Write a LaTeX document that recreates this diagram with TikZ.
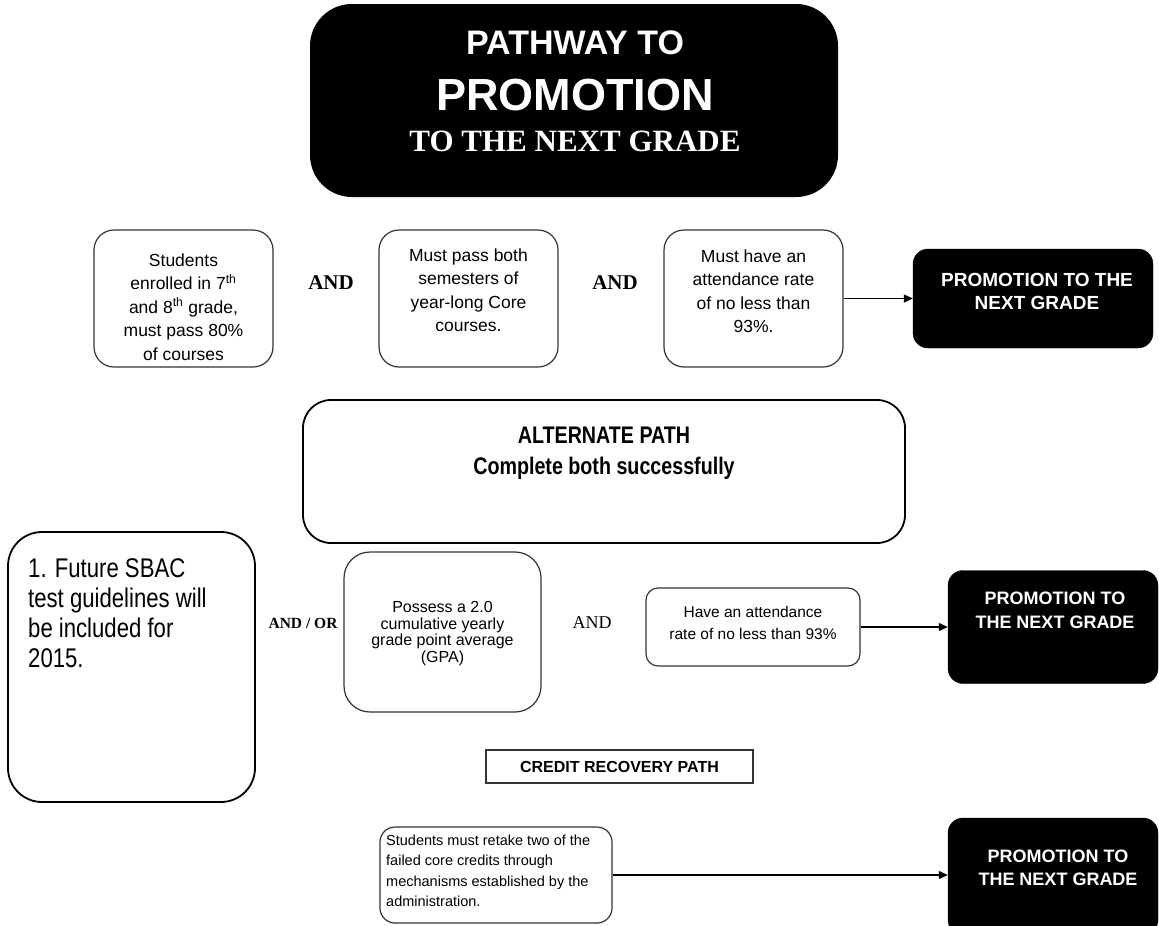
\documentclass[tikz,border=0pt]{standalone}
\usepackage{fontspec}
\setmainfont{Liberation Sans}
\newfontfamily\timesfont{Liberation Serif}
\newfontfamily\narrowfont[FakeStretch=0.82]{Liberation Sans}
\usetikzlibrary{arrows.meta}

\tikzset{
  reqbox/.style={draw=black!80, line width=1.2pt, rounded corners=20pt},
  reqtext/.style={align=center, inner sep=0pt, font=\fontsize{17.5}{23.5}\selectfont},
  andlabel/.style={inner sep=0pt, font=\timesfont\bfseries\fontsize{21}{24}\selectfont},
  blackbox/.style={fill=black, draw=black, rounded corners=15pt},
  blacktext/.style={text=white, align=center, inner sep=0pt, font=\bfseries\fontsize{18}{23.5}\selectfont},
  pathbox/.style={draw=black, line width=1.8pt, rounded corners=28pt},
  linkarrow/.style={-{Triangle[length=9pt,width=8pt]}, line width=1.2pt}
}

\begin{document}
\begin{tikzpicture}[x=1pt, y=-1pt]
  \useasboundingbox (0,0) rectangle (1159,926);

  % title
  \node [fill=black, rounded corners=42pt, minimum width=528pt, minimum height=193pt] (title) at (574,100.5) {};
  \node [text=white, inner sep=0pt, font=\bfseries\fontsize{34}{36}\selectfont] (titleA) at (575,43) {PATHWAY TO};
  \node [text=white, inner sep=0pt, font=\bfseries\fontsize{45}{48}\selectfont] (titleB) at (575,95) {PROMOTION};
  \node [text=white, inner sep=0pt, font=\timesfont\bfseries\fontsize{31}{34}\selectfont] (titleC) at (575,141) {TO THE NEXT GRADE};

  % main path
  \node [reqbox, minimum width=179pt, minimum height=137pt] (req1) at (183.5,298.5) {};
  \node [reqtext] (req1txt) at (183.5,307) {Students\\enrolled in 7\textsuperscript{th}\\and 8\textsuperscript{th} grade,\\must pass 80\%\\of courses};
  \node [andlabel] (and1) at (331,283) {AND};
  \node [reqbox, minimum width=179pt, minimum height=137pt] (req2) at (468.5,298.5) {};
  \node [reqtext] (req2txt) at (468.5,290) {Must pass both\\semesters of\\year-long Core\\courses.};
  \node [andlabel] (and2) at (615,283) {AND};
  \node [reqbox, minimum width=179pt, minimum height=137pt] (req3) at (753.5,298.5) {};
  \node [reqtext] (req3txt) at (753.5,291) {Must have an\\attendance rate\\of no less than\\93\%.};
  \node [blackbox, minimum width=240pt, minimum height=99pt] (prom1) at (1033,298.5) {};
  \node [blacktext, font=\bfseries\fontsize{19}{23.5}\selectfont] (prom1txt) at (1037,291.5) {PROMOTION TO THE\\NEXT GRADE};
  \draw [linkarrow] (req3.east) -- (prom1.west);

  % alternate path
  \node [pathbox, minimum width=602pt, minimum height=143pt] (alt) at (604,471.5) {};
  \node [align=center, inner sep=0pt, font=\narrowfont\bfseries\fontsize{24}{31}\selectfont] (alttxt) at (604,453.5) {ALTERNATE PATH\\Complete both successfully};
  \node [pathbox, rounded corners=34pt, minimum width=247pt, minimum height=270pt] (sbac) at (131.5,667) {};
  \node [anchor=north west, align=left, inner sep=0pt, font=\narrowfont\fontsize{27}{30}\selectfont] (sbactxt) at (28,558) {1. Future SBAC\\test guidelines will\\be included for\\2015.};
  \node [inner sep=0pt, font=\timesfont\bfseries\fontsize{15.5}{18}\selectfont] (andor) at (303,623) {AND / OR};
  \node [reqbox, rounded corners=26pt, minimum width=197pt, minimum height=160pt] (gpa) at (442.5,632) {};
  \node [reqtext, font=\fontsize{16}{16.8}\selectfont] (gpatxt) at (442.5,633.5) {Possess a 2.0\\cumulative yearly\\grade point average\\(GPA)};
  \node [inner sep=0pt, font=\timesfont\fontsize{18}{20}\selectfont] (and3) at (592,623) {AND};
  \node [reqbox, rounded corners=12pt, minimum width=214pt, minimum height=78pt] (att) at (753,627) {};
  \node [reqtext, font=\fontsize{15.5}{22}\selectfont] (atttxt) at (753,623) {Have an attendance\\rate of no less than 93\%};
  \node [blackbox, minimum width=210pt, minimum height=113pt] (prom2) at (1053,627) {};
  \node [blacktext] (prom2txt) at (1055,610.5) {PROMOTION TO\\THE NEXT GRADE};
  \draw [linkarrow] (att.east) -- (prom2.west);

  % credit recovery path
  \node [draw=black!80, line width=1.2pt, minimum width=267pt, minimum height=33pt, font=\bfseries\fontsize{16}{18}\selectfont] (credit) at (619.5,766.5) {CREDIT RECOVERY PATH};
  \node [reqbox, rounded corners=15pt, minimum width=232pt, minimum height=96pt] (retake) at (496,875) {};
  \node [anchor=west, align=left, inner sep=0pt, font=\fontsize{14.5}{20.5}\selectfont] (retaketxt) at (386,871) {Students must retake two of the\\failed core credits through\\mechanisms established by the\\administration.};
  \node [blackbox, minimum width=210pt, minimum height=117pt] (prom3) at (1053,876.5) {};
  \node [blacktext] (prom3txt) at (1058,868) {PROMOTION TO\\THE NEXT GRADE};
  \draw [linkarrow] (retake.east) -- (retake.east -| prom3.west);
\end{tikzpicture}
\end{document}
